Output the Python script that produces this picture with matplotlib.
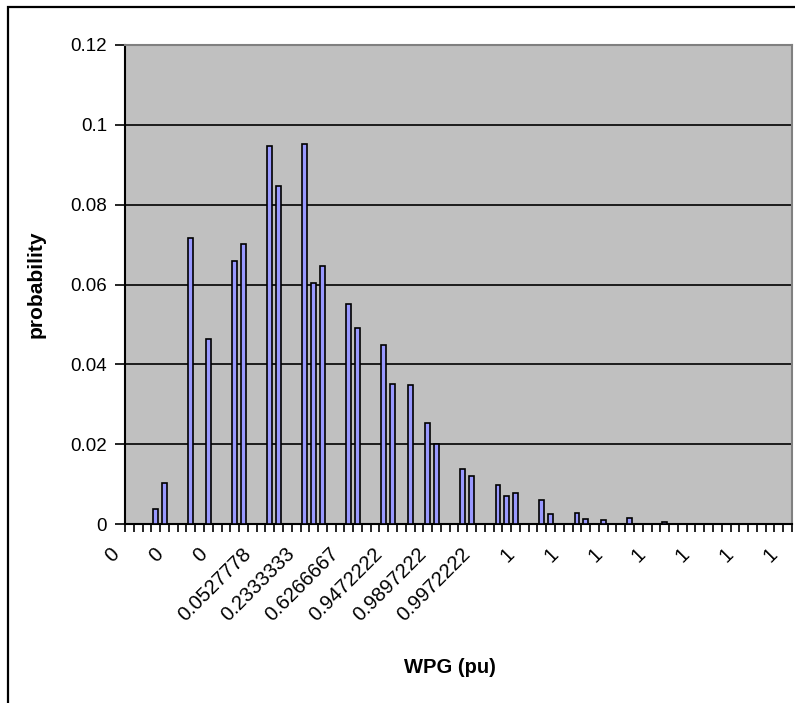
import numpy as np
import matplotlib.pyplot as plt
from matplotlib.patches import Rectangle
from matplotlib.transforms import ScaledTranslation

plt.rcParams['font.family'] = ['Liberation Sans', 'DejaVu Sans']

# Probabilidad por categoría (76 categorías, la mayoría vacías)
probabilidad = [
    0, 0, 0, 0.0037, 0.0102, 0, 0, 0.0717, 0, 0.0464,
    0, 0, 0.0660, 0.0702, 0, 0, 0.0946, 0.0848, 0, 0,
    0.0951, 0.0604, 0.0647, 0, 0, 0.0552, 0.0491, 0, 0, 0.0449,
    0.0351, 0, 0.0347, 0, 0.0252, 0.0200, 0, 0, 0.0139, 0.0121,
    0, 0, 0.0097, 0.0070, 0.0078, 0, 0, 0.0060, 0.0026, 0,
    0, 0.0028, 0.0013, 0, 0.0009, 0, 0, 0.0014, 0, 0,
    0, 0.0005, 0, 0, 0, 0, 0, 0, 0, 0,
    0, 0, 0, 0, 0, 0,
]
# Etiquetas del eje x (una cada 5 categorías)
etiquetas_x = ['0', '0', '0', '0.0527778', '0.2333333', '0.6266667',
               '0.9472222', '0.9897222', '0.9972222',
               '1', '1', '1', '1', '1', '1', '1']
paso_etiqueta = 5

n = len(probabilidad)
x = np.arange(n)

fig = plt.figure(figsize=(7.95, 7.03), dpi=100)
ax = fig.add_axes([0.1572, 0.2546, 0.8390, 0.6814])

# Marco exterior del gráfico
fig.patches.append(Rectangle((0.0105, -0.2), 1.2, 1.1895, transform=fig.transFigure,
                             fill=False, edgecolor='black', linewidth=1.6))

ax.set_facecolor('#C0C0C0')
ax.bar(x, probabilidad, width=0.56, color='#9999FF', edgecolor='black',
       linewidth=1.2, zorder=3)

ax.set_xlim(-0.5, n - 0.5)
ax.set_ylim(0, 0.12)
ax.set_yticks(np.arange(0, 0.121, 0.02))
ax.set_yticklabels(['0', '0.02', '0.04', '0.06', '0.08', '0.1', '0.12'])
ax.yaxis.grid(True, color='black', linewidth=1.2, zorder=1)
ax.set_axisbelow(True)

# Marcas entre categorías, etiquetas en el centro
ax.set_xticks(np.arange(-0.5, n, 1), minor=True)
ax.set_xticks(x[::paso_etiqueta])
ax.set_xticklabels(etiquetas_x, rotation=45, ha='right', va='center',
                   rotation_mode='anchor')
ax.tick_params(axis='x', which='major', length=0, labelsize=14.5, pad=0)
ax.tick_params(axis='x', which='minor', length=6, width=1.2, direction='out')
ax.tick_params(axis='y', length=7, width=1.2, labelsize=13.5, pad=6)

offset = ScaledTranslation(-0.13, -0.27, fig.dpi_scale_trans)
for lab in ax.get_xticklabels():
    lab.set_transform(lab.get_transform() + offset)

for s in ['top', 'right']:
    ax.spines[s].set_color('#808080')
    ax.spines[s].set_linewidth(1.5)
for s in ['left', 'bottom']:
    ax.spines[s].set_color('black')
    ax.spines[s].set_linewidth(1.5)

ax.set_ylabel('probability', fontsize=15, fontweight='bold', labelpad=18)
fig.text(0.566, 0.05, 'WPG (pu)', fontsize=14.5, fontweight='bold', ha='center', va='center')

plt.savefig('out.png', dpi=100)
